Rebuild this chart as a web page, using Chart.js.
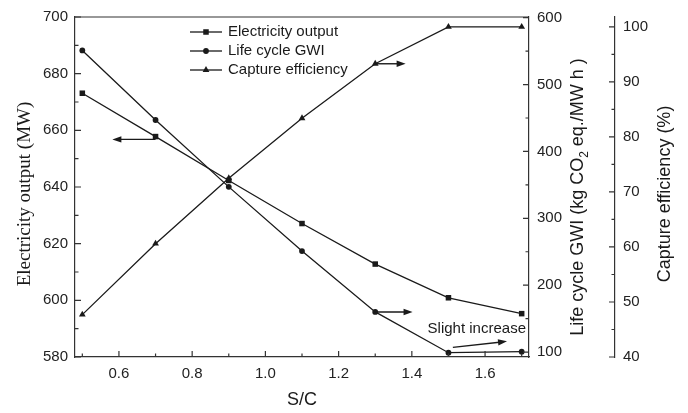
<!DOCTYPE html>
<html>
<head>
<meta charset="utf-8">
<script src="https://cdn.jsdelivr.net/npm/chart.js@4/dist/chart.umd.min.js"></script>
<style>
  html, body { margin: 0; padding: 0; background: #fff; }
</style>
</head>
<body>
<canvas id="chart" width="688" height="413"></canvas>
<script>
// S/C ratio
const sc = [0.5, 0.7, 0.9, 1.1, 1.3, 1.5, 1.7];
// Electricity output (MW)
const electricity = [673.1, 657.8, 642.3, 627.1, 612.8, 600.9, 595.3];
// Life cycle GWI (kg CO2 eq./MWh)
const gwi = [551, 447, 347, 251, 160, 99, 100.5];
// Capture efficiency (%)
const capture = [47.7, 60.6, 72.5, 83.4, 93.3, 100, 100];

const xTicks = [0.6, 0.8, 1.0, 1.2, 1.4, 1.6];
const elecTicks = [580, 600, 620, 640, 660, 680, 700];
const gwiTicks = [100, 200, 300, 400, 500, 600];
const captureTicks = [40, 50, 60, 70, 80, 90, 100];

const INK = "#1a1a1a";
const SANS = "'Liberation Sans', Arial, sans-serif";
const SERIF = "'Liberation Serif', 'Times New Roman', serif";
const tickFont = { family: SANS, size: 15 };

const pts = (ys) => sc.map((x, i) => ({ x: x, y: ys[i] }));
const fixTicks = (list) => (s) => { s.ticks = list.map((v) => ({ value: v })); };

const series = [
  { label: "Electricity output", data: pts(electricity), yAxisID: "y", pointStyle: "rect", pointRadius: 3.9 },
  { label: "Life cycle GWI", data: pts(gwi), yAxisID: "y1", pointStyle: "circle", pointRadius: 2.9 },
  { label: "Capture efficiency", data: pts(capture), yAxisID: "y2", pointStyle: "triangle", pointRadius: 3.9 },
];

function drawMarker(ctx, style, x, y, r) {
  ctx.beginPath();
  if (style === "rect") {
    const h = r / Math.SQRT2;
    ctx.rect(x - h, y - h, 2 * h, 2 * h);
  } else if (style === "circle") {
    ctx.arc(x, y, r, 0, Math.PI * 2);
  } else {
    ctx.moveTo(x, y - r);
    ctx.lineTo(x + r * 0.866, y + r / 2);
    ctx.lineTo(x - r * 0.866, y + r / 2);
    ctx.closePath();
  }
  ctx.fill();
}

function arrow(ctx, x1, y1, x2, y2) {
  const a = Math.atan2(y2 - y1, x2 - x1);
  const len = 9, half = 3.2;
  ctx.beginPath();
  ctx.moveTo(x1, y1);
  ctx.lineTo(x2 - Math.cos(a) * len * 0.6, y2 - Math.sin(a) * len * 0.6);
  ctx.stroke();
  ctx.beginPath();
  ctx.moveTo(x2, y2);
  ctx.lineTo(x2 - Math.cos(a) * len - Math.sin(a) * half, y2 - Math.sin(a) * len + Math.cos(a) * half);
  ctx.lineTo(x2 - Math.cos(a) * len + Math.sin(a) * half, y2 - Math.sin(a) * len - Math.cos(a) * half);
  ctx.closePath();
  ctx.fill();
}

const decorations = {
  id: "decorations",
  afterDraw(chart) {
    const { ctx, chartArea: area, scales } = chart;
    const { x, y, y1, y2 } = scales;
    ctx.save();
    ctx.strokeStyle = "#333";
    ctx.fillStyle = INK;
    ctx.lineWidth = 1.2;

    // top frame line
    ctx.beginPath();
    ctx.moveTo(area.left, area.top);
    ctx.lineTo(area.right, area.top);
    ctx.stroke();

    // inward major + minor ticks
    const tickSet = (scale, list, draw) => {
      const step = list[1] - list[0];
      list.forEach((v) => draw(scale.getPixelForValue(v), 6));
      [list[0] - step / 2, ...list.map((v) => v + step / 2)].forEach((v) => {
        if (v > scale.min && v < scale.max) draw(scale.getPixelForValue(v), 3.5);
      });
    };
    ctx.lineWidth = 1.2;
    ctx.beginPath();
    tickSet(x, xTicks, (p, l) => { ctx.moveTo(p, area.bottom); ctx.lineTo(p, area.bottom - l); });
    tickSet(y, elecTicks, (p, l) => { ctx.moveTo(area.left, p); ctx.lineTo(area.left + l, p); });
    tickSet(y1, gwiTicks, (p, l) => { ctx.moveTo(area.right, p); ctx.lineTo(area.right - l, p); });
    tickSet(y2, captureTicks, (p, l) => { ctx.moveTo(y2.left, p); ctx.lineTo(y2.left - l, p); });
    ctx.stroke();

    // annotation arrows
    ctx.lineWidth = 1.4;
    ctx.strokeStyle = INK;
    arrow(ctx, x.getPixelForValue(0.7), y.getPixelForValue(656.8), x.getPixelForValue(0.582), y.getPixelForValue(656.8));
    arrow(ctx, x.getPixelForValue(1.3), y2.getPixelForValue(93.3), x.getPixelForValue(1.383), y2.getPixelForValue(93.3));
    arrow(ctx, x.getPixelForValue(1.3), y1.getPixelForValue(160), x.getPixelForValue(1.402), y1.getPixelForValue(160));
    arrow(ctx, x.getPixelForValue(1.512), y1.getPixelForValue(107), x.getPixelForValue(1.66), y1.getPixelForValue(116));
    ctx.font = "15px " + SANS;
    ctx.textAlign = "left";
    ctx.textBaseline = "middle";
    ctx.fillText("Slight increase", x.getPixelForValue(1.443), y1.getPixelForValue(135));

    // legend
    const lx = 190, lw = 32, rows = [32, 51, 70];
    ctx.lineWidth = 1.3;
    series.forEach((s, i) => {
      const ly = rows[i];
      ctx.beginPath();
      ctx.moveTo(lx, ly);
      ctx.lineTo(lx + lw, ly);
      ctx.stroke();
      drawMarker(ctx, s.pointStyle, lx + 16, ly, s.pointRadius);
      ctx.fillText(s.label, lx + lw + 6, ly);
    });

    // axis titles
    ctx.textAlign = "center";
    ctx.font = "18px " + SANS;
    ctx.fillText("S/C", 302, 400);

    const vertical = (cx, cy, fn) => {
      ctx.save();
      ctx.translate(cx, cy);
      ctx.rotate(-Math.PI / 2);
      fn();
      ctx.restore();
    };
    vertical(25, 194, () => {
      ctx.font = "19px " + SERIF;
      ctx.fillText("Electricity output (MW)", 0, 0);
    });
    vertical(665, 194, () => {
      ctx.font = "18px " + SANS;
      ctx.fillText("Capture efficiency (%)", 0, 0);
    });
    vertical(578, 197, () => {
      const a = "Life cycle GWI (kg CO", b = "2", c = " eq./MW h )";
      ctx.font = "18px " + SANS;
      const wa = ctx.measureText(a).width, wc = ctx.measureText(c).width;
      ctx.font = "12px " + SANS;
      const wb = ctx.measureText(b).width;
      let px = -(wa + wb + wc) / 2;
      ctx.textAlign = "left";
      ctx.font = "18px " + SANS;
      ctx.fillText(a, px, 0);
      px += wa;
      ctx.font = "12px " + SANS;
      ctx.fillText(b, px, 7);
      px += wb;
      ctx.font = "18px " + SANS;
      ctx.fillText(c, px, 0);
    });
    ctx.restore();
  },
};

new Chart(document.getElementById("chart"), {
  type: "line",
  data: {
    datasets: series.map((s) => ({
      ...s,
      borderColor: INK,
      backgroundColor: INK,
      pointBackgroundColor: INK,
      pointBorderWidth: 0,
      borderWidth: 1.3,
      tension: 0,
      fill: false,
    })),
  },
  options: {
    responsive: false,
    animation: false,
    devicePixelRatio: 1,
    layout: { padding: { top: 13, left: 0, right: 0, bottom: 0 } },
    plugins: { legend: { display: false }, tooltip: { enabled: false } },
    scales: {
      x: {
        type: "linear",
        min: 0.48,
        max: 1.72,
        afterBuildTicks: fixTicks(xTicks),
        afterFit: (s) => { s.height = 56; },
        ticks: { font: tickFont, color: "#222", padding: 8, maxRotation: 0, callback: (v) => v.toFixed(1) },
        grid: { display: false, drawTicks: false },
        border: { color: "#333", width: 1.2 },
      },
      y: {
        position: "left",
        min: 580,
        max: 700,
        afterBuildTicks: fixTicks(elecTicks),
        afterFit: (s) => { s.width = 75; },
        ticks: { font: tickFont, color: "#222", padding: 7 },
        grid: { display: false, drawTicks: false },
        border: { color: "#333", width: 1.2 },
      },
      y1: {
        position: "right",
        weight: 0,
        min: 92.6,
        max: 601,
        afterBuildTicks: fixTicks(gwiTicks),
        afterFit: (s) => { s.width = 86; },
        ticks: { font: tickFont, color: "#222", padding: 8 },
        grid: { display: false, drawTicks: false },
        border: { color: "#333", width: 1.2 },
      },
      y2: {
        position: "right",
        weight: 1,
        min: 40,
        max: 101.8,
        afterBuildTicks: fixTicks(captureTicks),
        afterFit: (s) => { s.width = 73; },
        ticks: { font: tickFont, color: "#222", padding: 8 },
        grid: { display: false, drawTicks: false },
        border: { color: "#333", width: 1.2 },
      },
    },
  },
  plugins: [decorations],
});
</script>
</body>
</html>
